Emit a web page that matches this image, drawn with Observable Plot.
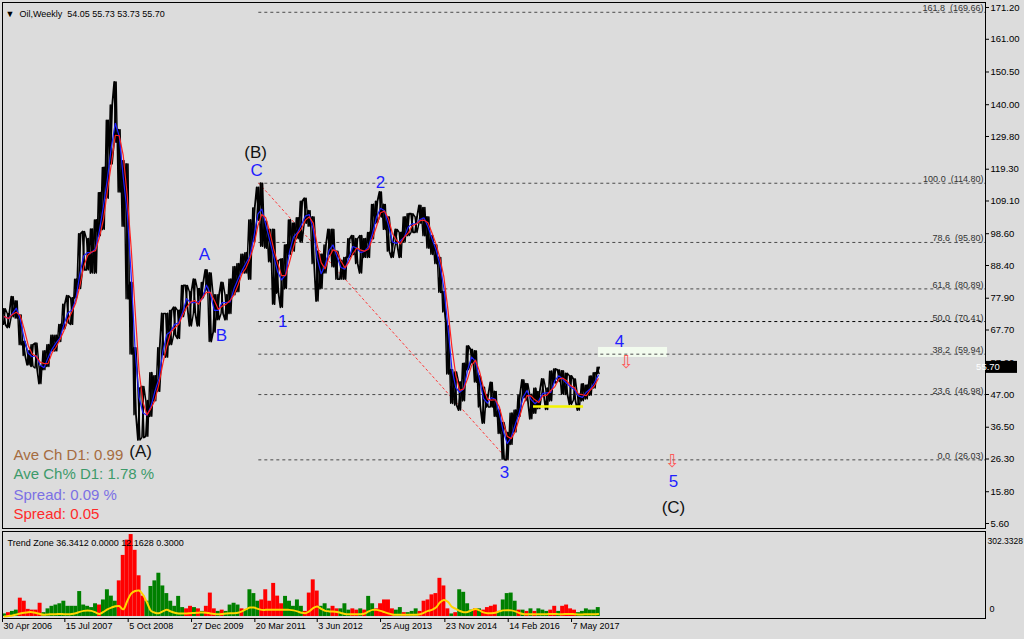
<!DOCTYPE html>
<html><head><meta charset="utf-8">
<script src="https://cdn.jsdelivr.net/npm/d3@7"></script>
<script src="https://cdn.jsdelivr.net/npm/@observablehq/plot@0.6"></script>
<style>
html,body{margin:0;padding:0;background:#dcdcdc;}
#wrap{position:relative;width:1024px;height:639px;background:#dcdcdc;overflow:hidden;}
#wrap svg{display:block;}
</style></head><body><div id="wrap"></div>
<script>
// ---------- data ----------
const startDate = "2006-04-30";      // first weekly bar
const blockDays = 28;                // each value = one 4-week block
const xDomainEnd = "2025-05-13";

const hi = [74.5,73,78.4,77,72.5,64,61,63,63.5,56,
  61,63,66,66,69.5,76,78.7,78,84,98.6,
  99.3,97,100.1,103,111.8,119.9,135,139.9,147.3,132,
  122,121,83,62,49,49.6,45,54,53,62,
  73,73,74,75,74,82,82,80,84,81,
  83,87,86,79,79,83,79,84,88,89,
  92,92.5,103,106.9,113.5,114.8,102.6,100,100,90,
  90.5,95,103,102,103.7,109,110,106,104,93,
  92,95,100,100,93,90,91,97,98,97,
  98,97,99,108,109,112,108,104,96,100,
  99,104,105,105,104,107.7,107,104,98,95,
  91,80,69,55,54.2,51,57,62.6,61.5,61,
  53,49.3,47,50.9,48,42,38,34.8,41,42,
  46.8,51.7,50.5,47,49,48,52,49,54.5,55.2,
  54.9,54.6,53.8,53,52,47,50.4,50,52.9,54,55.73];
const lo = [69.5,68.5,72,71.5,63,59.5,56.5,56,55.5,50.5,
  55,56,61,61,64,68,70,69.5,78,81,
  87,87,86,86,98,100,110,121,128,112,
  101,77.7,60,40.5,32.4,33.2,33.6,40,45,48,
  60,59,63,66,65,72,75,69,73,69,
  78,80.5,64,67,71,73,71,73,79,80,
  86,86,84,96,103,94.6,94,89.6,76,79.5,
  75,81,92,93,97,96,102,101,89,77,
  81,86,92,88,84,84,84,91,92,89,
  86,91,91,97,102,104,100,93,91,95,
  91,96,98,99,99,102,98,94,92,89,
  79.8,73.5,53.6,44.2,43.6,42,45,55,57,51,
  43,37.8,43,43,40,34.5,26.2,26.05,31,35,
  40,46,45,39.2,41,42.5,47,42.2,45,50.7,
  51.2,47.1,47,43.8,45.2,42,45,45.6,46.8,49.1,53.7];

const trendZone = [10,15,20,25,72,60,28,25,25,52,
  15,30,40,45,50,60,40,40,40,98,
  45,40,35,50,45,65,105,80,60,140,
  240,300,322,260,160,80,60,118,140,170,
  120,90,60,40,79,35,30,40,35,30,
  20,40,92,30,20,25,20,45,52,45,
  30,25,105,90,60,65,105,60,130,80,
  50,79,60,40,65,40,20,92,144,100,
  40,50,30,40,30,30,50,25,30,25,
  30,25,79,50,30,50,65,65,30,25,
  35,15,15,20,30,20,60,65,85,90,
  150,120,30,10,15,105,95,50,25,30,
  30,25,35,40,45,20,65,90,92,60,
  25,25,20,30,20,30,25,20,25,40,
  20,40,45,30,25,15,20,30,25,25,35];
const trendSide = ("grggrrrrrr"+"gggggggggg"+"ggggrggggr"+"rrrrrrgggg"+"ggggggrrgr"+
  "grrrgrgggg"+"rggggrrrrr"+"rgggggrrrr"+"gggrrgggrr"+"grggrrrrrg"+
  "grgggrrrrr"+"rrrgrggggr"+"grrrrggggg"+"rgrgrgggrr"+"grrrrggggg"+"g").split("");
const trendSignal = [0,2,4,8,12,15,17,17,14,10,
  7,8,9,9,10,9,9,10,13,18,
  22,24,22,16,10,18,28,35,40,41,
  28,60,90,100,102,85,55,22,15,13,
  20,26,20,15,12,12,12,13,14,15,
  16,15,12,10,9,10,12,13,13,15,
  20,28,35,35,30,26,26,26,26,26,
  26,26,26,24,20,15,13,20,33,39,
  30,22,20,20,18,14,10,9,9,9,
  9,12,20,26,26,22,17,12,8,7,
  7,7,7,7,7,9,15,22,26,35,
  55,65,58,38,30,22,17,18,24,29,
  24,16,13,13,15,20,24,25,24,20,
  14,10,9,9,9,9,9,9,10,10,
  9,9,10,10,9,8,8,9,9,9,10];

const priceTicks = [171.20,161.00,150.50,140.00,129.80,119.30,109.10,98.60,88.40,77.90,67.70,57.20,47.00,36.50,26.30,15.80,5.60];
const lastClose = 55.70;
const header = "\u25BC\u00a0\u00a0Oil,Weekly\u00a0\u00a054.05 55.73 53.73 55.70";

const dateTicks = ["2006-04-30","2007-07-15","2008-10-05","2009-12-27","2011-03-20","2012-06-03","2013-08-25","2014-11-23","2016-02-14","2017-05-07"];
const dateTickLabels = ["30 Apr 2006","15 Jul 2007","5 Oct 2008","27 Dec 2009","20 Mar 2011","3 Jun 2012","25 Aug 2013","23 Nov 2014","14 Feb 2016","7 May 2017"];

const fibLevels = [161.8,100.0,78.6,61.8,50.0,38.2,23.6,0.0];
const fibPrices = [169.66,114.80,95.80,80.89,70.41,59.94,46.98,26.03];
const fibFrom = "2011-04-17";
const trendLineDates = ["2011-04-17","2016-02-11"];
const trendLinePrices = [114.80,26.03];

const waveText  = ["(B)","C","A","B","1","2","3","4","5","(C)","(A)"];
const waveDate  = ["2011-03-25","2011-04-01","2010-03-29","2010-07-27","2011-10-03","2013-08-25","2016-01-19","2018-04-11","2019-04-28","2019-04-28","2009-01-01"];
const wavePrice = [124.7,118.9,91.9,65.9,70.4,115.0,22.0,64.0,19.1,10.7,28.7];

const box4Dates = ["2017-11-14","2019-03-17"];
const box4Prices = [58.9,62.1];
const arrowDates = ["2018-05-31","2019-04-21"];
const arrowPrices = [57.3,25.5];
const supportDates = ["2016-08-11","2017-07-31"];
const supportPrice = 43.15;

const legendText = ["Ave Ch D1: 0.99","Ave Ch% D1: 1.78 %","Spread: 0.09 %","Spread: 0.05"];
const legendColor = ["#a56c40","#3d9a6a","#7b70e4","#ff2a2a"];
const trendZoneTitle = "Trend Zone 36.3412 0.0000 12.1628 0.3000";
const trendZoneMax = 302.3328;

// ---------- build ----------
const P = d3.isoParse;
const t0 = P(startDate);
const addDays = (d, n) => new Date(d.getTime() + n * 86400000);
const xDomain = [t0, P(xDomainEnd)];

const rows = hi.map((h, j) => ({
  date: addDays(t0, blockDays * j + blockDays / 2),
  hi: h, lo: lo[j], mid: (h + lo[j]) / 2
}));
// price paths through each block's low and high (both orders, to look like dense weekly bars)
const pathA = [], pathB = [];
rows.forEach((r, j) => {
  const next = rows[j + 1];
  const rising = next ? next.mid >= r.mid : true;
  const a = rising ? r.lo : r.hi, b = rising ? r.hi : r.lo;
  pathA.push({d: addDays(t0, blockDays * j + 6), p: a});
  pathA.push({d: addDays(t0, blockDays * j + 20), p: b});
  pathB.push({d: addDays(t0, blockDays * j + 6), p: b});
  pathB.push({d: addDays(t0, blockDays * j + 20), p: a});
});
const tz = trendZone.map((v, j) => ({
  x1: addDays(t0, blockDays * j), x2: addDays(t0, blockDays * (j + 1)),
  mid: addDays(t0, blockDays * j + blockDays / 2),
  v, side: trendSide[j], sig: trendSignal[j]
}));

const font = "'Liberation Sans', Arial, sans-serif";
const blue = "#1f1fff";

const fibIdx = fibLevels.map((_, i) => i);
const waveIdx = waveText.map((_, i) => i);

const main = Plot.plot({
  width: 1024, height: 530,
  marginLeft: 2, marginRight: 39, marginTop: 2, marginBottom: 2,
  style: {background: "#dcdcdc", fontFamily: font, fontSize: "9.5px", color: "black", overflow: "visible"},
  x: {type: "utc", domain: xDomain, axis: null},
  y: {domain: [4.0, 172.8], axis: "right", ticks: priceTicks, tickFormat: d3.format(".2f"), tickSize: 3, tickPadding: 2, label: null},
  marks: [
    Plot.rect([0], {x1: P(box4Dates[0]), x2: P(box4Dates[1]), y1: box4Prices[0], y2: box4Prices[1], fill: "#f2fbee"}),
    Plot.ruleY(fibIdx, {y: i => fibPrices[i], x1: P(fibFrom), x2: xDomain[1],
      stroke: i => fibLevels[i] === 50 ? "#000000" : "#4a4a4a", strokeDasharray: "3,3", strokeWidth: 1}),
    Plot.text(fibIdx, {y: i => fibPrices[i], frameAnchor: "right", textAnchor: "end", lineAnchor: "bottom", dx: -2, dy: -1,
      text: i => fibLevels[i].toFixed(1) + "\u00a0\u00a0(" + fibPrices[i].toFixed(2) + ")", fill: "#333333", fontSize: 9}),
    Plot.line(trendLineDates.map((d, i) => ({d: P(d), p: trendLinePrices[i]})), {x: "d", y: "p", stroke: "#ff3a3a", strokeDasharray: "2,3", strokeWidth: 1}),
    Plot.line(pathA, {x: "d", y: "p", stroke: "black", strokeWidth: 1.8}),
    Plot.line(pathB, {x: "d", y: "p", stroke: "black", strokeWidth: 1.4}),
    Plot.ruleX(rows, {x: "date", y1: "lo", y2: "hi", stroke: "black", strokeWidth: 1.2}),
    Plot.lineY(rows, Plot.windowY({k: 2, anchor: "end"}, {x: "date", y: "mid", stroke: blue, strokeWidth: 1.2})),
    Plot.lineY(rows, Plot.windowY({k: 3, anchor: "end"}, {x: "date", y: "mid", stroke: "#ff2020", strokeWidth: 1.2})),
    Plot.ruleY([supportPrice], {x1: P(supportDates[0]), x2: P(supportDates[1]), stroke: "#f4f400", strokeWidth: 2.5}),
    Plot.text(arrowDates.map((d, i) => ({d: P(d), p: arrowPrices[i]})), {x: "d", y: "p", text: () => "\u21E9", fill: "#ff5a5a", fontSize: 18, fontFamily: "DejaVu Sans"}),
    Plot.text(waveIdx, {x: i => P(waveDate[i]), y: i => wavePrice[i], text: i => waveText[i],
      fill: i => waveText[i].startsWith("(") ? "#111111" : blue, fontSize: 17}),
    ...legendText.map((t, i) => Plot.text([t], {frameAnchor: "top-left", textAnchor: "start", dx: 11, dy: [447, 466, 487, 506][i], fill: legendColor[i], fontSize: 15})),
    Plot.text([header], {frameAnchor: "top-left", textAnchor: "start", dx: 3, dy: 8, fontSize: 9}),
    Plot.frame({stroke: "black"})
  ]
});

const ind = Plot.plot({
  width: 1024, height: 109,
  marginLeft: 2, marginRight: 39, marginTop: 1, marginBottom: 21,
  style: {background: "#dcdcdc", fontFamily: font, fontSize: "9px", color: "black", overflow: "visible"},
  x: {type: "utc", domain: xDomain, axis: "bottom", ticks: dateTicks.map(P), tickSize: 4, tickFormat: () => "", label: null},
  y: {domain: [-7.9, 334], axis: null},
  marks: [
    Plot.rectY(tz, {x1: "x1", x2: "x2", y1: 0, y2: "v", fill: d => d.side === "r" ? "#ff0000" : "#008000"}),
    Plot.line(tz, {x: "mid", y: "sig", stroke: "#ffd500", strokeWidth: 2, curve: "catmull-rom"}),
    Plot.text([trendZoneTitle], {frameAnchor: "top-left", textAnchor: "start", dx: 5, dy: 8, fontSize: 9}),
    Plot.text([trendZoneMax.toFixed(4)], {frameAnchor: "top-right", textAnchor: "start", dx: 2, dy: 6, fontSize: 8.5}),
    Plot.text(["0"], {frameAnchor: "bottom-right", textAnchor: "start", dx: 4, dy: -7, fontSize: 9}),
    Plot.text(dateTicks, {x: d => P(d), frameAnchor: "bottom", textAnchor: "start", dx: 1, dy: 10, text: (d, i) => dateTickLabels[i], fontSize: 9}),
    Plot.frame({stroke: "black"})
  ]
});

const wrap = document.getElementById("wrap");
wrap.appendChild(main);
wrap.appendChild(ind);

// last-price tag on the right axis
const ys = main.scale("y"), xs = main.scale("x");
const yy = ys.apply(lastClose), xr = xs.range[1];
const g = d3.select(main).append("g");
g.append("rect").attr("x", xr + 1).attr("y", yy - 6).attr("width", 31).attr("height", 12).attr("fill", "black");
g.append("text").attr("x", xr + 3).attr("y", yy).attr("dy", "0.35em").attr("fill", "white")
  .attr("font-size", 9.5).attr("font-family", font).text(lastClose.toFixed(2));
</script></body></html>
